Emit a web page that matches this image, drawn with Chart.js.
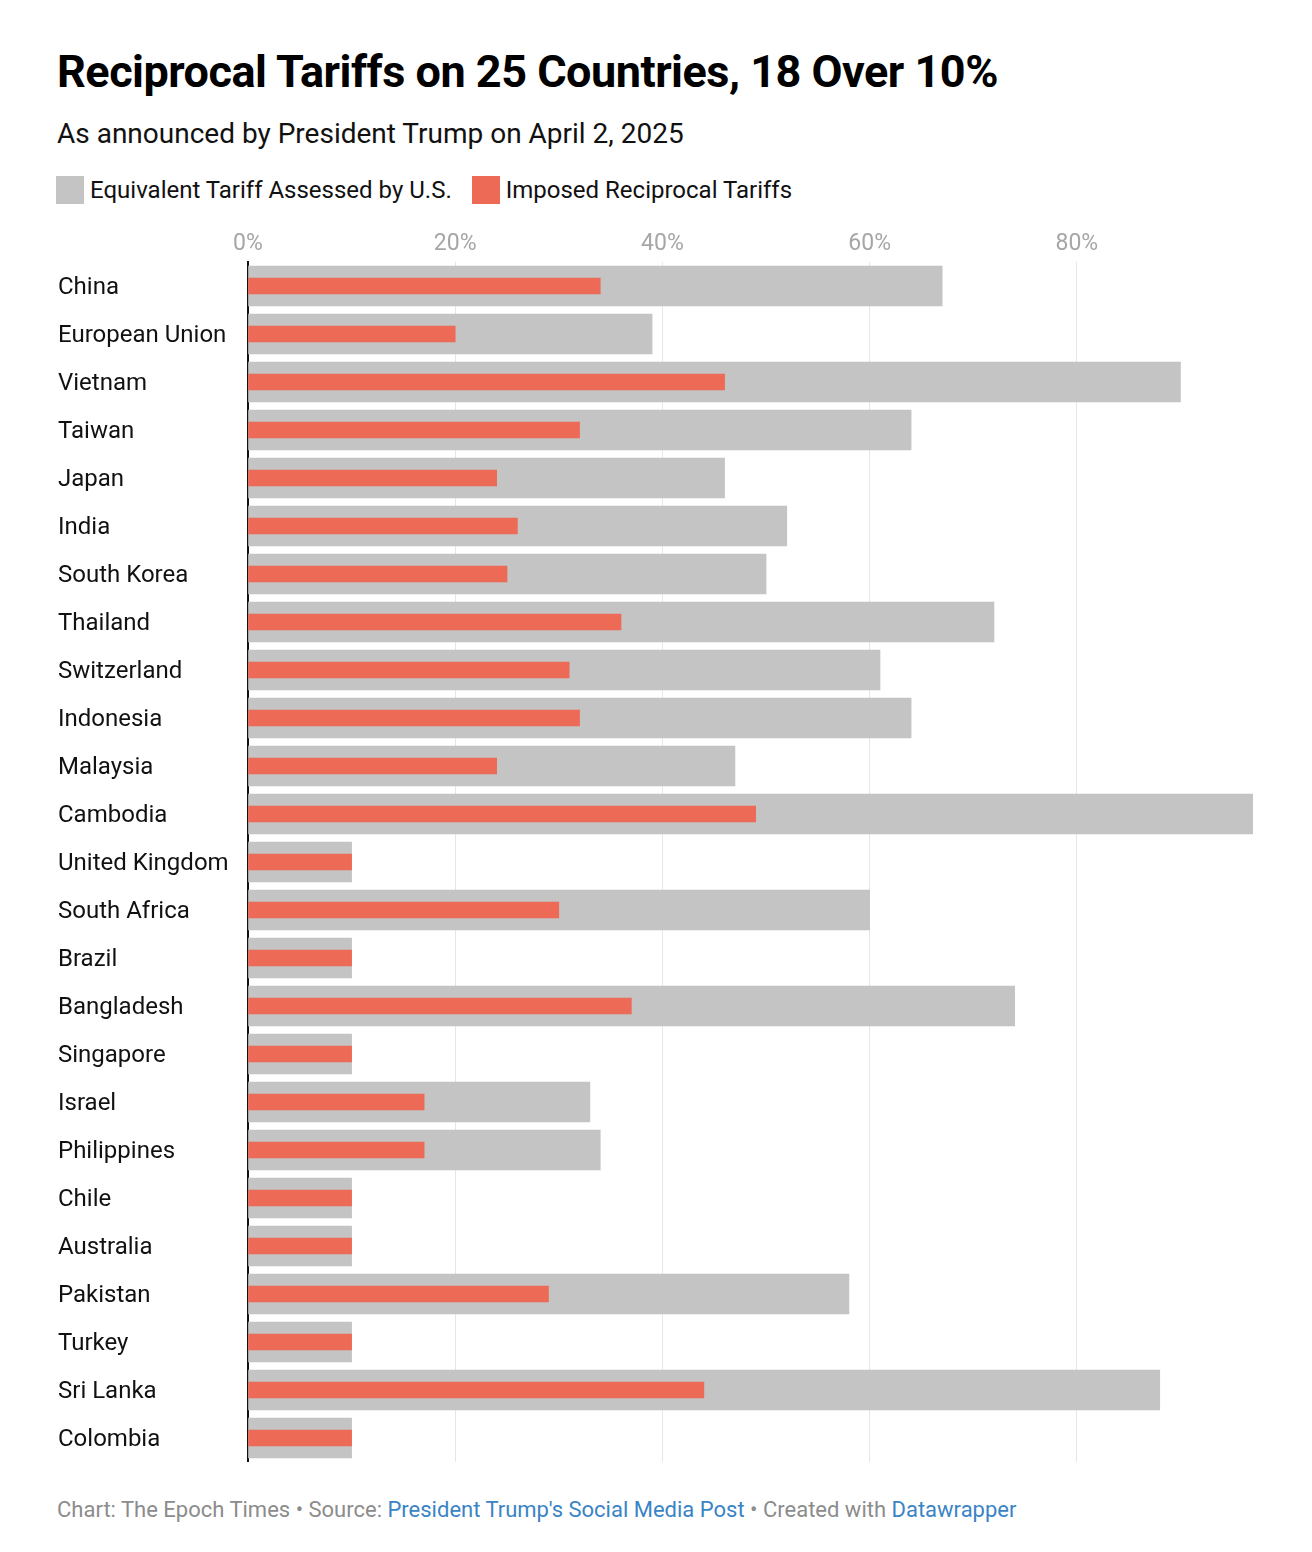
<!DOCTYPE html>
<html>
<head>
<meta charset="utf-8">
<script src="https://cdn.jsdelivr.net/npm/chart.js@4"></script>
<style>
  html, body { margin: 0; padding: 0; background: #fff; }
  body { width: 1312px; height: 1552px; position: relative; font-family: Roboto, "Noto Sans", sans-serif; color: #111; }
  #title { position: absolute; left: 57px; top: 45px; font-size: 45px; line-height: 54px; font-weight: 700; letter-spacing: -0.5px; white-space: nowrap; color: #000; }
  #subtitle { position: absolute; left: 57px; top: 117px; font-size: 28px; line-height: 34px; font-weight: 400; white-space: nowrap; }
  #legend { position: absolute; left: 56px; top: 176px; font-size: 24px; line-height: 28px; display: flex; align-items: center; white-space: nowrap; }
  .sw { display: inline-block; width: 28px; height: 28px; margin-right: 6px; }
  .item { display: flex; align-items: center; margin-right: 20px; }
  #wrap { position: absolute; left: 0; top: 220px; width: 1312px; height: 1242px; }
  #footer { position: absolute; left: 57px; top: 1496px; font-size: 22px; line-height: 28px; color: #8c8c8c; white-space: nowrap; }
  #footer a { color: #3a84c6; text-decoration: none; }
</style>
</head>
<body>
<div id="title">Reciprocal Tariffs on 25 Countries, 18 Over 10%</div>
<div id="subtitle">As announced by President Trump on April 2, 2025</div>
<div id="legend">
  <div class="item"><span class="sw" style="background:#c4c4c4"></span>Equivalent Tariff Assessed by U.S.</div>
  <div class="item"><span class="sw" style="background:#ec6a56"></span>Imposed Reciprocal Tariffs</div>
</div>
<div id="wrap"><canvas id="c"></canvas></div>
<div id="footer">Chart: The Epoch Times • Source: <a>President Trump's Social Media Post</a> • Created with <a>Datawrapper</a></div>
<script>
const countries = ["China","European Union","Vietnam","Taiwan","Japan","India","South Korea","Thailand","Switzerland","Indonesia","Malaysia","Cambodia","United Kingdom","South Africa","Brazil","Bangladesh","Singapore","Israel","Philippines","Chile","Australia","Pakistan","Turkey","Sri Lanka","Colombia"];
const equivalentTariff = [67,39,90,64,46,52,50,72,61,64,47,97,10,60,10,74,10,33,34,10,10,58,10,88,10];
const reciprocalTariff = [34,20,46,32,24,26,25,36,31,32,24,49,10,30,10,37,10,17,17,10,10,29,10,44,10];
const xTicks = [0,20,40,60,80];

new Chart(document.getElementById('c'), {
  type: 'bar',
  data: {
    labels: countries,
    datasets: [
      { label: 'Imposed Reciprocal Tariffs', data: reciprocalTariff, backgroundColor: '#ec6a56', barThickness: 16, grouped: false, order: 0 },
      { label: 'Equivalent Tariff Assessed by U.S.', data: equivalentTariff, backgroundColor: '#c4c4c4', barThickness: 40, grouped: false, order: 1 }
    ]
  },
  options: {
    indexAxis: 'y',
    responsive: true,
    maintainAspectRatio: false,
    animation: false,
    layout: { padding: { left: 58, right: 59, top: 0, bottom: 0 } },
    plugins: { legend: { display: false }, tooltip: { enabled: false } },
    scales: {
      x: {
        position: 'top',
        min: 0, max: 97,
        afterBuildTicks: s => { s.ticks = xTicks.map(v => ({ value: v })); },
        afterFit: s => { s.height = 42; s.paddingLeft = 0; s.paddingRight = 0; },
        ticks: { callback: v => v + '%', color: '#a6a6a6', font: { family: 'Roboto', size: 23 }, padding: 4, maxRotation: 0 },
        grid: { color: ctx => ctx.tick && ctx.tick.value === 0 ? 'rgba(0,0,0,0)' : '#e6e6e6', lineWidth: 1, drawTicks: false },
        border: { display: false }
      },
      y: {
        afterFit: s => { s.width = 190; s.paddingTop = 0; s.paddingBottom = 0; },
        ticks: { crossAlign: 'far', color: '#111', font: { family: 'Roboto', size: 24 }, padding: 10, autoSkip: false, labelOffset: 2 },
        grid: { display: false, drawTicks: false },
        border: { display: true, color: '#111', width: 2 }
      }
    }
  }
});
</script>
</body>
</html>
